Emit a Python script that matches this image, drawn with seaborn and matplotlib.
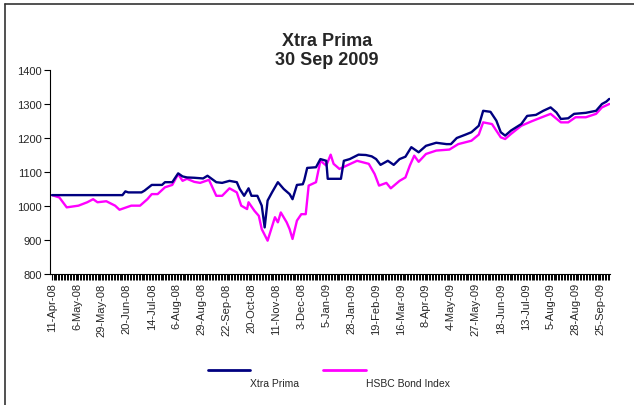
import seaborn as sns
import matplotlib.pyplot as plt
import pandas as pd
from matplotlib.lines import Line2D
from matplotlib.ticker import FixedLocator

# trading day index (0 = 11-Apr-08) and values
tick_labels = ["11-Apr-08", "6-May-08", "29-May-08", "20-Jun-08", "14-Jul-08",
               "6-Aug-08", "29-Aug-08", "22-Sep-08", "20-Oct-08", "11-Nov-08",
               "3-Dec-08", "5-Jan-09", "28-Jan-09", "19-Feb-09", "16-Mar-09",
               "8-Apr-09", "4-May-09", "27-May-09", "18-Jun-09", "13-Jul-09",
               "5-Aug-09", "28-Aug-09", "25-Sep-09"]
label_step = 17
n_days = 381

prima_day = [0, 48, 50, 52, 61, 63, 68, 75, 77, 82, 86, 89, 92, 97, 103, 106,
             112, 116, 121, 126, 128, 131, 134, 136, 140, 143, 145, 147, 150,
             154, 158, 162, 164, 167, 171, 172, 174, 180, 183, 187, 188, 197,
             199, 203, 209, 214, 218, 221, 224, 229, 233, 237, 241, 245, 250,
             255, 262, 269, 272, 276, 282, 286, 291, 294, 299, 303, 306, 309,
             313, 320, 324, 330, 335, 340, 344, 347, 352, 356, 364, 371, 375,
             378, 380]
prima_val = [1032, 1032, 1043, 1040, 1040, 1045, 1062, 1062, 1070, 1070, 1096,
             1087, 1084, 1083, 1081, 1089, 1070, 1068, 1074, 1070, 1050, 1030,
             1052, 1030, 1030, 1001, 937, 1016, 1040, 1070, 1050, 1035, 1020,
             1062, 1064, 1076, 1112, 1114, 1138, 1133, 1080, 1080, 1133, 1138,
             1151, 1150, 1146, 1138, 1121, 1133, 1121, 1138, 1145, 1173, 1158,
             1177, 1186, 1182, 1182, 1200, 1210, 1217, 1236, 1280, 1277, 1251,
             1217, 1207, 1222, 1241, 1265, 1268, 1280, 1290, 1275, 1256, 1258,
             1271, 1274, 1280, 1300, 1307, 1315]

hsbc_day = [0, 5, 10, 18, 24, 28, 31, 37, 43, 46, 54, 60, 65, 68, 72, 77, 82,
            86, 89, 92, 97, 101, 107, 112, 116, 121, 126, 129, 133, 134, 138,
            141, 143, 147, 152, 154, 156, 160, 162, 164, 167, 170, 173, 175,
            180, 183, 187, 190, 192, 196, 201, 208, 216, 220, 223, 228, 231,
            237, 241, 244, 247, 250, 255, 262, 271, 277, 286, 291, 294, 300,
            306, 309, 313, 320, 327, 334, 340, 347, 352, 357, 364, 371, 375,
            380]
hsbc_val = [1032, 1025, 996, 1001, 1011, 1020, 1011, 1014, 1001, 989, 1001,
            1001, 1020, 1035, 1035, 1055, 1062, 1094, 1074, 1080, 1071, 1068,
            1077, 1030, 1030, 1052, 1040, 1001, 991, 1011, 986, 971, 932, 898,
            967, 952, 981, 952, 932, 903, 957, 976, 976, 1060, 1070, 1133,
            1119, 1151, 1124, 1109, 1119, 1133, 1124, 1094, 1060, 1068, 1052,
            1074, 1084, 1119, 1148, 1130, 1153, 1163, 1166, 1182, 1192, 1210,
            1246, 1241, 1202, 1197, 1212, 1236, 1249, 1261, 1271, 1246, 1246,
            1261, 1261, 1271, 1290, 1300]

navy = "#000080"
magenta = "#FF00FF"

df = pd.concat([
    pd.DataFrame({"day": prima_day, "value": prima_val, "series": "Xtra Prima"}),
    pd.DataFrame({"day": hsbc_day, "value": hsbc_val, "series": "HSBC Bond Index"}),
])

sns.set_style("ticks")
plt.rcParams["font.family"] = ["Liberation Sans", "DejaVu Sans"]

fig = plt.figure(figsize=(6.34, 4.06), dpi=100)
ax = fig.add_axes([50 / 634, 1 - 275 / 406, 560 / 634, 204 / 406])
sns.lineplot(data=df, x="day", y="value", hue="series",
             palette={"Xtra Prima": navy, "HSBC Bond Index": magenta},
             hue_order=["HSBC Bond Index", "Xtra Prima"],
             linewidth=1.7, legend=False, ax=ax)

ax.set_ylim(800, 1400)
ax.set_yticks(range(800, 1401, 100))
ax.set_xlim(-1.4, n_days - 0.5)
ax.xaxis.set_major_locator(FixedLocator([i * label_step for i in range(len(tick_labels))]))
ax.set_xticklabels(tick_labels, rotation=90, fontsize=8)
# one small tick per trading day, as in the Excel category axis
ax.set_xticks(list(range(n_days)), minor=True)
ax.tick_params(axis="x", which="major", bottom=True, direction="out",
               length=4, width=0.8, color="black", pad=2)
ax.tick_params(axis="x", which="minor", bottom=True, direction="out",
               length=4, width=0.7, color="black")
ax.tick_params(axis="y", left=True, direction="out", length=4, width=0.8,
               color="black", labelsize=8, pad=2)
ax.set_xlabel("")
ax.set_ylabel("")
for side in ["top", "right"]:
    ax.spines[side].set_visible(False)
for side in ["left", "bottom"]:
    ax.spines[side].set_color("black")
    ax.spines[side].set_linewidth(0.8)

fig.text(327 / 634, 1 - 51 / 406, "Xtra Prima\n30 Sep 2009", ha="center",
         va="center", fontsize=13, fontweight="bold", linespacing=1.2)

# Excel style legend: line sample above, label below right
y_line = 1 - 371 / 406
y_text = 1 - 384 / 406
fig.add_artist(Line2D([208 / 634, 250 / 634], [y_line, y_line], color=navy,
                      lw=2, transform=fig.transFigure))
fig.text(250 / 634, y_text, "Xtra Prima", fontsize=7.5, va="center")
fig.add_artist(Line2D([323 / 634, 366 / 634], [y_line, y_line], color=magenta,
                      lw=2, transform=fig.transFigure))
fig.text(366 / 634, y_text, "HSBC Bond Index", fontsize=7.5, va="center")

# chart area frame (only top and left visible in the crop)
fig.add_artist(Line2D([5 / 634, 1], [1 - 5 / 406, 1 - 5 / 406], color="#333333",
                      lw=1.2, transform=fig.transFigure))
fig.add_artist(Line2D([5 / 634, 5 / 634], [0, 1 - 5 / 406], color="#333333",
                      lw=1.2, transform=fig.transFigure))

fig.savefig("out.png", dpi=100)
